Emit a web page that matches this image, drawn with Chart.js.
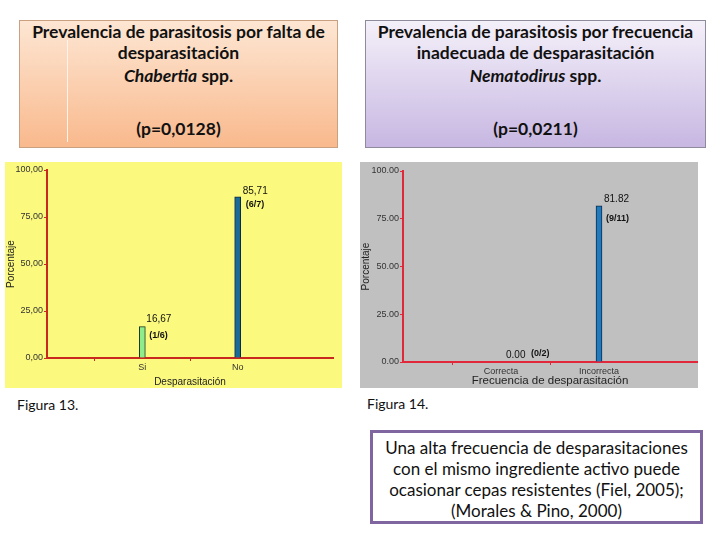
<!DOCTYPE html>
<html>
<head>
<meta charset="utf-8">
<script src="https://cdn.jsdelivr.net/npm/chart.js@4/dist/chart.umd.min.js"></script>
<style>
  html,body{margin:0;padding:0;background:#fff;width:720px;height:540px;overflow:hidden;}
  body{position:relative;font-family:Lato,"Open Sans",sans-serif;}
  .hbox{position:absolute;box-sizing:border-box;text-align:center;font-weight:bold;font-size:17.5px;color:#111;}
  .hbox div{position:absolute;left:0;right:0;white-space:nowrap;}
  #h1{left:19px;top:20px;width:319px;height:128px;border:1px solid #c9a080;
      background:linear-gradient(#fde6d3,#f9b98d);}
  #h2{left:365px;top:20px;width:341px;height:128px;border:1px solid #8f8a9c;
      background:linear-gradient(#f4f0f9,#c7b7e2);}
  #wline{position:absolute;left:67px;top:40px;width:1px;height:102px;background:#fff3ea;}
  .cbox{position:absolute;}
  #c1{left:5px;top:162px;width:337px;height:226px;background:#fbf97e;}
  #c2{left:360px;top:162px;width:338px;height:226px;background:#c0c0c0;}
  .cap{position:absolute;font-size:14px;color:#111;}
  #note{position:absolute;left:370px;top:430px;width:333px;height:94px;box-sizing:border-box;
        border:3px solid #7f66a0;text-align:center;font-size:17px;line-height:21px;padding-top:4px;color:#111;white-space:nowrap;}
</style>
</head>
<body>
<div class="hbox" id="h1">
  <div style="top:0px">Prevalencia de parasitosis por falta de</div>
  <div style="top:21px">desparasitación</div>
  <div style="top:44px"><i>Chabertia</i> spp.</div>
  <div style="top:97px">(p=0,0128)</div>
</div>
<div id="wline"></div>
<div class="hbox" id="h2">
  <div style="top:0px">Prevalencia de parasitosis por frecuencia</div>
  <div style="top:21px">inadecuada de desparasitación</div>
  <div style="top:44px"><i>Nematodirus</i> spp.</div>
  <div style="top:97px">(p=0,0211)</div>
</div>

<div class="cbox" id="c1"><canvas id="chart1"></canvas></div>
<div class="cbox" id="c2"><canvas id="chart2"></canvas></div>

<div class="cap" style="left:17px;top:396px;">Figura 13.</div>
<div class="cap" style="left:367px;top:395px;">Figura 14.</div>

<div id="note">Una alta frecuencia de desparasitaciones<br>con el mismo ingrediente activo puede<br>ocasionar cepas resistentes (Fiel, 2005);<br>(Morales &amp; Pino, 2000)</div>

<script>
// ---- Data ----
const categories1 = ['Si', 'No'];
const values1 = [16.67, 85.71];
const fractions1 = ['(1/6)', '(6/7)'];

const categories2 = ['Correcta', 'Incorrecta'];
const values2 = [0.00, 81.82];
const fractions2 = ['(0/2)', '(9/11)'];

const yTicks = [0, 25, 50, 75, 100];

// ---- Helpers ----
function pad(arr){ return [null].concat(arr, [null]); }
function padL(arr){ return [''].concat(arr, ['']); }

const labelPlugin = {
  id: 'barLabels',
  afterDatasetsDraw(chart, args, opts) {
    const ctx = chart.ctx;
    const meta = chart.getDatasetMeta(0);
    const ds = chart.data.datasets[0];
    ctx.save();
    ctx.textAlign = 'left';
    ctx.textBaseline = 'middle';
    ctx.fillStyle = '#111';
    meta.data.forEach((el, i) => {
      const v = ds.data[i];
      if (v === null || v === undefined) return;
      const k = i - 1;
      const off = opts.offsets[k];
      const right = el.x + el.width / 2;
      ctx.font = '10px "Liberation Sans", Arial, sans-serif';
      ctx.fillText(opts.fmt(v), right + off[0], el.y + off[1]);
      ctx.font = 'bold 9px "Liberation Sans", Arial, sans-serif';
      ctx.fillText(opts.fractions[k], right + off[2], el.y + off[3]);
    });
    ctx.restore();
  }
};

function makeChart(id, cats, vals, fracs, cfg) {
  const n = cats.length;
  const edgeTransparent = (c) => (c.index === 0 || c.index === n + 1) ? 'rgba(0,0,0,0)' : cfg.axisColor;
  return new Chart(document.getElementById(id), {
    type: 'bar',
    data: {
      labels: padL(cats),
      datasets: [{
        data: pad(vals),
        backgroundColor: pad(cfg.colors),
        borderColor: pad(cfg.borders),
        borderWidth: 1,
        borderSkipped: 'bottom',
        barThickness: 6
      }]
    },
    options: {
      responsive: true,
      maintainAspectRatio: false,
      animation: false,
      layout: { padding: cfg.padding },
      plugins: {
        legend: { display: false },
        tooltip: { enabled: false },
        barLabels: { fractions: fracs, fmt: cfg.fmt, offsets: cfg.offsets }
      },
      scales: {
        x: {
          offset: false,
          grid: { drawOnChartArea: false, drawTicks: true, tickLength: 3, color: edgeTransparent, lineWidth: 1 },
          border: { display: true, color: cfg.axisColor, width: 2 },
          ticks: { color: '#333', font: { size: 9, family: '"Liberation Sans", Arial' }, padding: 1, maxRotation: 0, autoSkip: false },
          title: { display: true, text: cfg.xTitle, color: '#222', font: { size: cfg.xTitleSize, family: '"Liberation Sans", Arial' }, padding: { top: 1, bottom: 0 } },
          afterFit: (s) => { s.height = cfg.xHeight; }
        },
        y: {
          min: 0, max: 100,
          afterBuildTicks: (s) => { s.ticks = yTicks.map(v => ({ value: v })); },
          grid: { drawOnChartArea: false, drawTicks: true, tickLength: 3, color: cfg.axisColor },
          border: { display: true, color: cfg.axisColor, width: 2 },
          ticks: { color: '#333', font: { size: 9, family: '"Liberation Sans", Arial' }, padding: 1, callback: (v) => cfg.fmt(v) },
          title: { display: true, text: 'Porcentaje', color: '#222', font: { size: 10, family: '"Liberation Sans", Arial' }, padding: 0 },
          afterFit: (s) => { s.width = cfg.yWidth; }
        }
      }
    },
    plugins: [labelPlugin]
  });
}

makeChart('chart1', categories1, values1, fractions1, {
  axisColor: '#c8281e',
  colors: ['#8fec8c', '#1b6b98'],
  borders: ['#1c3a1c', '#0e2a40'],
  fmt: (v) => Number(v).toFixed(2).replace('.', ','),
  xTitle: 'Desparasitación',
  xTitleSize: 10,
  padding: { top: 8, right: 9, left: 0, bottom: 0 },
  yWidth: 42,
  xHeight: 30,
  offsets: [[1, -7, 4, 9], [2, -6, 5, 8]]
});

makeChart('chart2', categories2, values2, fractions2, {
  axisColor: '#e0283a',
  colors: ['#1f7bbd', '#1f7bbd'],
  borders: ['#1f7bbd', '#0c2a4a'],
  fmt: (v) => Number(v).toFixed(2),
  xTitle: 'Frecuencia de desparasitación',
  xTitleSize: 11.5,
  padding: { top: 9, right: 1, left: 0, bottom: 0 },
  yWidth: 43,
  xHeight: 26,
  offsets: [[2, -7, 27, -8], [2, -6, 4, 13]]
});
</script>
</body>
</html>
